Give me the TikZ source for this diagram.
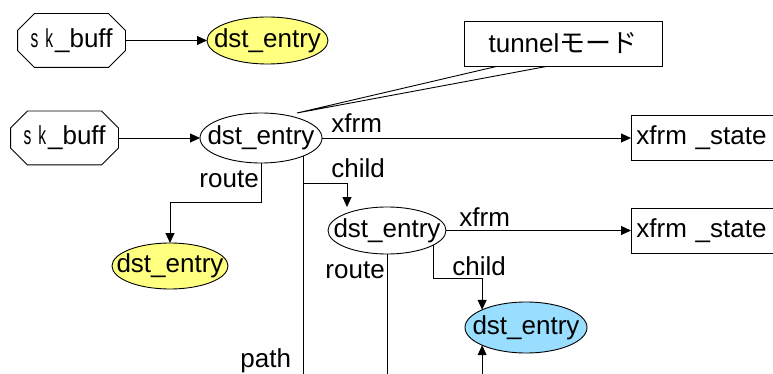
\documentclass[tikz,border=0pt]{standalone}
\usepackage{fontspec}
\usepackage{graphicx}
\setmainfont{Liberation Sans}
\newfontfamily\jp{Noto Sans CJK JP}
\usetikzlibrary{shapes.geometric,arrows.meta}
\definecolor{ylw}{RGB}{255,255,128}
\definecolor{lblue}{RGB}{153,221,255}
\newcommand\octpath[1]{\draw ([xshift=17pt]#1.north west) -- ([xshift=-17pt]#1.north east) -- ([yshift=-17pt]#1.north east) -- ([yshift=17pt]#1.south east) -- ([xshift=-17pt]#1.south east) -- ([xshift=17pt]#1.south west) -- ([yshift=17pt]#1.south west) -- ([yshift=-17pt]#1.north west) -- cycle;}
\newcommand\skbuff{\scalebox{0.6}[1]{s}\hspace{7pt}\scalebox{0.6}[1]{k}\hspace{2pt}\_buff}
\begin{document}
\begin{tikzpicture}[x=1pt,y=-1pt, line width=0.9pt,
  font=\fontsize{26}{30}\selectfont,
  ell/.style={ellipse, draw, inner sep=0pt, outer sep=0pt},
  arr/.style={-{Triangle[length=10pt,width=9pt]}},
  lbl/.style={anchor=base west, inner sep=0pt},
  octbox/.style={rectangle, draw=none, inner sep=0pt, minimum width=107pt, minimum height=53pt},
  statebox/.style={rectangle, draw, anchor=west, minimum height=45pt, text width=140pt, align=left, inner xsep=5pt, inner ysep=0pt}
]
\useasboundingbox (0,0) rectangle (773,374);
\clip (0,0) rectangle (773,374);
\fill[white] (0,0) rectangle (773,374);

% nodes
\node[octbox] (sk1) at (71.5,40.5) {\skbuff};
\octpath{sk1}
\node[ell, fill=ylw, minimum width=121pt, minimum height=47pt, label=center:dst\_entry] (e1) at (267.5,40.5) {};

\node[draw, minimum width=198pt, minimum height=45pt, inner sep=0pt] (tun) at (563,43.5) {tunnel{\jp モード}};

\node[octbox] (sk2) at (64.5,138) {\skbuff};
\octpath{sk2}
\node[ell, minimum width=122pt, minimum height=50pt, label=center:dst\_entry] (e2) at (261,138) {};
\node[statebox] (xs1) at (631,138) {xfrm \_state};

\node[ell, fill=ylw, minimum width=116pt, minimum height=46pt, label=center:dst\_entry] (ey) at (170,266) {};
\node[ell, minimum width=118pt, minimum height=47pt, label=center:dst\_entry] (e3) at (387,230.5) {};
\node[statebox] (xs2) at (631,230.5) {xfrm \_state};
\node[ell, fill=lblue, minimum width=122pt, minimum height=51pt, label=center:dst\_entry] (e4) at (526,327.5) {};

% labels
\node[lbl] (lx1) at (331,133) {xfrm};
\node[lbl] (lc1) at (331,178) {child};
\node[lbl] (lr1) at (199,187) {route};
\node[lbl] (lx2) at (459,226) {xfrm};
\node[lbl] (lr2) at (325,278) {route};
\node[lbl] (lc2) at (452,275) {child};
\node[lbl] (lp) at (240,367) {path};

% helper coordinates
\coordinate (tip) at (297,113);
\coordinate (r2) at (170,202);
\coordinate (c2) at (0,183);
\coordinate (k3) at (0,278);
\coordinate (b4) at (0,380);

% connectors
\draw[arr] (sk1.east) -- (e1.west);
\draw[arr] (sk2.east) -- (e2.west);
\draw ([xshift=33pt]tun.south west) -- (tip) -- ([xshift=83pt]tun.south west);
\draw[arr] (e2.east) -- (xs1.west);
\draw[arr] (e2.south) |- (r2) -- (ey.north);
\draw (e2.-23.3) -- ++(0,240);
\draw[arr] (e2.-23.3 |- c2) -| ([xshift=-40pt]e3.north);
\draw[arr] (e3.east) -- (xs2.west);
\draw (e3.south) -- ++(0,140);
\draw[arr] (e3.-17.7) |- (k3 -| e4.158) -- (e4.158);
\draw[arr] (b4 -| e4.202) -- (e4.202);
\end{tikzpicture}
\end{document}
